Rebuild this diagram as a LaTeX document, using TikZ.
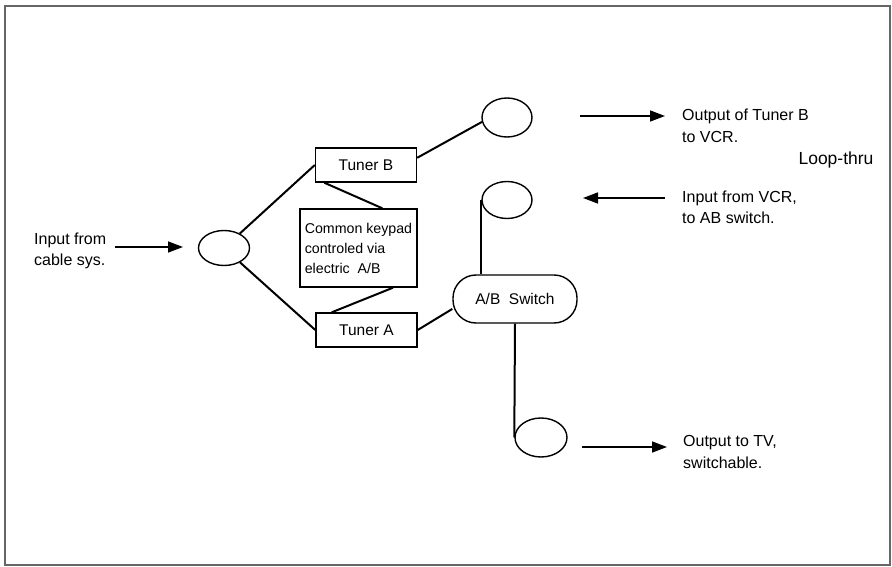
\documentclass[tikz,border=0pt]{standalone}
\usepackage{fontspec}
\setmainfont{Liberation Sans}
\usetikzlibrary{arrows.meta,shapes.geometric}
\begin{document}
\begin{tikzpicture}[x=1pt,y=-1pt,
  oval/.style={ellipse, draw, line width=1.4pt, inner sep=0pt},
  box/.style={rectangle, draw, line width=1.4pt, inner sep=0pt, font=\fontsize{15.5}{18}\selectfont},
  conn/.style={line width=2pt},
  flow/.style={line width=1.6pt, -{Triangle[length=15pt,width=11pt]}},
  lbl/.style={anchor=west, inner sep=0pt, align=left, font=\fontsize{16}{21.5}\selectfont}]
\useasboundingbox (0,0) rectangle (892,567);
\draw[line width=1.2pt, black!60] (5,6) rectangle (890,565);

% ellipses
\node[oval, minimum width=51pt, minimum height=35pt] (leftE) at (224,248) {};
\node[oval, minimum width=50pt, minimum height=39pt] (topE) at (507,117.5) {};
\node[oval, minimum width=50pt, minimum height=37pt] (loopE) at (507,200) {};
\node[oval, minimum width=52pt, minimum height=39pt] (botE) at (541,437.5) {};

% boxes
\node[box, minimum width=101pt, minimum height=34pt] (tunB) at (366,165) {Tuner B};
\node[box, minimum width=101pt, minimum height=34pt] (tunA) at (366.5,330) {Tuner A};
\node[box, minimum width=117pt, minimum height=78pt, align=left,
      font=\fontsize{14.2}{20}\selectfont] (kp) at (358.5,248)
      {Common keypad\\controled via\\electric\ \ A/B};
\node[box, minimum width=124pt, minimum height=48pt, rounded corners=23pt] (sw) at (515,299) {A/B\ \ Switch};

% connectors
\draw[conn] (leftE) -- (tunB.west);
\draw[conn] (leftE) -- (tunA.west);
\draw[conn] (tunB.203.5) -- (kp.59);
\draw[conn] (kp.-49.3) -- (tunA.153.8);
\draw[conn] (tunB.8) -- (topE.190);
\draw[conn] (tunA.east) -- (sw.189.5);
\draw[conn] (loopE.west) -- (loopE.west |- sw.north);
\draw[conn] (sw.south) -- (botE.west);

% labels
\node[lbl] (inCab) at (34,251) {Input from\\cable sys.};
\node[lbl] (outB) at (682,126) {Output of Tuner B\\to VCR.};
\node[lbl] (inVCR) at (682,207.5) {Input from VCR,\\to AB switch.};
\node[lbl] (outTV) at (683,452) {Output to TV,\\switchable.};
\node[inner sep=0pt, font=\fontsize{17.5}{20}\selectfont] (loop) at (836,160) {Loop-thru};

% arrows
\coordinate (a1s) at (115,247); \coordinate (a1e) at (183,247);
\coordinate (a2s) at (580,116); \coordinate (a2e) at (665,116);
\coordinate (a3s) at (665,198); \coordinate (a3e) at (583,198);
\coordinate (a4s) at (582,447); \coordinate (a4e) at (667,447);
\draw[flow] (a1s) -- (a1e);
\draw[flow] (a2s) -- (a2e);
\draw[flow] (a3s) -- (a3e);
\draw[flow] (a4s) -- (a4e);
\end{tikzpicture}
\end{document}
